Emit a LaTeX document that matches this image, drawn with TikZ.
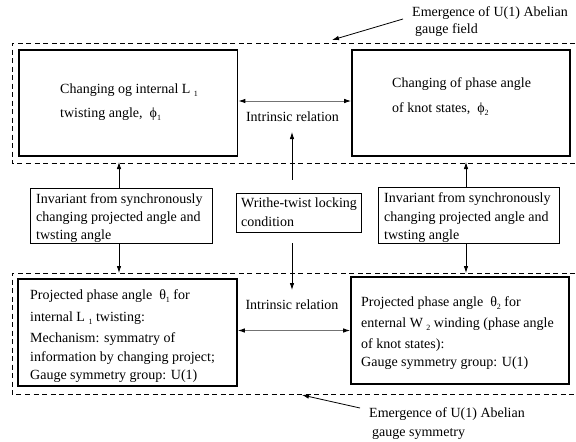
\documentclass[tikz,border=0pt]{standalone}
\usepackage{fontspec}
\setmainfont{Liberation Serif}
\usetikzlibrary{arrows.meta}
\newcommand{\sbs}[1]{\raisebox{-3pt}{\fontsize{8}{8}\selectfont #1}}
\begin{document}
\begin{tikzpicture}[x=1pt,y=-1pt,
  bigbox/.style={draw,line width=1.6pt,inner sep=0pt},
  smallbox/.style={draw,line width=0.8pt,inner sep=0pt},
  dashbox/.style={line width=0.8pt,dash pattern=on 5pt off 3.5pt},
  txt/.style={anchor=base west,inner sep=0pt,font=\fontsize{14}{16}\selectfont},
  arr/.style={line width=0.8pt,-{Latex[length=7pt,width=4.5pt]}},
  darr/.style={line width=1pt,draw=black!55,{Latex[length=7pt,width=4.5pt,color=black]}-{Latex[length=7pt,width=4.5pt,color=black]}}]
\useasboundingbox (0,0) rectangle (576,442);
% dashed groups (open at right edge)
\draw[dashbox] (575,43) -- (12,43) -- (12,163) -- (575,163);
\draw[dashbox] (575,273) -- (12,273) -- (12,394) -- (575,394);
\coordinate (topdash) at (0,162);
\coordinate (botdash) at (0,273);
% main boxes
\node[bigbox,minimum width=218.5pt,minimum height=106pt] (tl) at (128.25,103) {};
\node[bigbox,minimum width=218pt,minimum height=106pt] (tr) at (461,103) {};
\node[bigbox,minimum width=219pt,minimum height=107pt] (bl) at (127.5,332.5) {};
\node[bigbox,minimum width=218pt,minimum height=107pt] (br) at (460,330.5) {};
\node[smallbox,minimum width=182pt,minimum height=55pt] (invL) at (121,215.5) {};
\node[smallbox,minimum width=181pt,minimum height=56pt] (invR) at (468.5,215) {};
\node[smallbox,minimum width=125pt,minimum height=39pt] (wr) at (298.5,212.5) {};
% texts
\node[txt] (tl1) at (60,93) {Changing og internal L \sbs{1}};
\node[txt] (tl2) at (60,117) {twisting angle, \ ϕ\sbs{1}};
\node[txt] (tr1) at (392,87) {Changing of phase angle};
\node[txt] (tr2) at (392,112) {of knot states, \ ϕ\sbs{2}};
\node[txt] (il1) at (36,203) {Invariant from synchronously};
\node[txt] (il2) at (36,221) {changing projected angle and};
\node[txt] (il3) at (36,239) {twsting angle};
\node[txt] (ir1) at (384,202) {Invariant from synchronously};
\node[txt] (ir2) at (384,221) {changing projected angle and};
\node[txt] (ir3) at (384,239) {twsting angle};
\node[txt] (w1) at (241,207) {Writhe-twist locking};
\node[txt] (w2) at (241,226) {condition};
\node[txt] (bl1) at (30,299) {Projected phase angle \ θ\sbs{1} for};
\node[txt] (bl2) at (30,321) {internal L \sbs{1} twisting:};
\node[txt] (bl3) at (30,342) {Mechanism: symmatry of};
\node[txt] (bl4) at (30,361) {information by changing project;};
\node[txt] (bl5) at (30,379) {Gauge symmetry group: U(1)};
\node[txt] (br1) at (361,306) {Projected phase angle \ θ\sbs{2} for};
\node[txt] (br2) at (361,327) {enternal W \sbs{2} winding (phase angle};
\node[txt] (br3) at (361,348) {of knot states):};
\node[txt] (br4) at (361,366) {Gauge symmetry group: U(1)};
\node[txt] (an1) at (412,16) {Emergence of U(1) Abelian};
\node[txt] (an2) at (415,33) {gauge field};
\node[txt] (an3) at (369,417) {Emergence of U(1) Abelian};
\node[txt] (an4) at (372,436) {gauge symmetry};
\node[anchor=center,inner sep=0pt,font=\fontsize{14}{16}\selectfont] (rel1) at (292.5,117) {Intrinsic relation};
\node[anchor=center,inner sep=0pt,font=\fontsize{14}{16}\selectfont] (rel2) at (292,305) {Intrinsic relation};
% connectors
\draw[darr] ([yshift=2pt]tl.east) -- ([yshift=2pt]tr.west);
\draw[darr] (bl.east |- br.west) -- (br.west);
\draw[arr] ([xshift=-2pt]invL.north) -- ([xshift=-2pt]invL.north |- topdash);
\draw[arr] ([xshift=-2pt]invL.south) -- ([xshift=-2pt]invL.south |- botdash);
\draw[arr] ([xshift=-2.5pt]invR.north) -- ([xshift=-2.5pt]invR.north |- topdash);
\draw[arr] ([xshift=-2.5pt]invR.south) -- ([xshift=-2.5pt]invR.south |- botdash);
\coordinate (wtop) at (292,132);
\coordinate (wbot) at (292,290);
\draw[arr,shorten <=13pt] ([xshift=-6.5pt]wr.north) -- (wtop);
\draw[arr,shorten <=11pt] ([xshift=-6.5pt]wr.south) -- (wbot);
\coordinate (a1s) at (403,19);
\coordinate (a1e) at (332,40);
\coordinate (a2s) at (360,408);
\coordinate (a2e) at (302,395);
\draw[arr] (a1s) -- (a1e);
\draw[arr] (a2s) -- (a2e);
\end{tikzpicture}
\end{document}
